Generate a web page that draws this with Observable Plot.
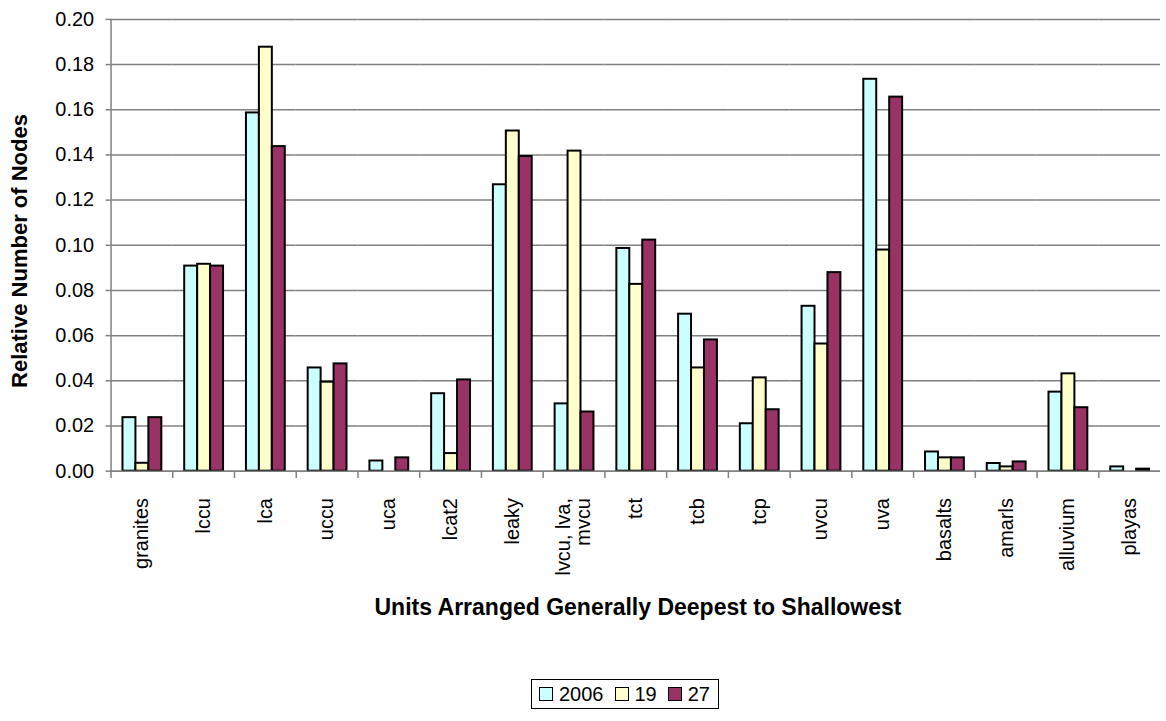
<!DOCTYPE html>
<html>
<head>
<meta charset="utf-8">
<script src="https://cdn.jsdelivr.net/npm/d3@7"></script>
<script src="https://cdn.jsdelivr.net/npm/@observablehq/plot@0.6"></script>
<style>
  html, body { margin: 0; padding: 0; overflow: hidden; background: #fff; }
  #wrap { position: relative; width: 1166px; height: 721px; overflow: hidden;
          font-family: "Liberation Sans", Arial, sans-serif; color: #000; }
  #chart { position: absolute; left: 0; top: 0; }
  .title { position: absolute; font-weight: bold; white-space: nowrap; line-height: 1; }
  #ytitle { font-size: 22px; left: 20px; top: 251px; transform: translate(-50%, -50%) rotate(-90deg); }
  #xtitle { font-size: 23px; left: 638px; top: 596px; transform: translateX(-50%); }
  #legend { position: absolute; left: 531px; top: 679px; border: 1px solid #000;
            padding: 3px 8px 3px 7px; display: flex; align-items: center; font-size: 20px; line-height: 22px; background: #fff; }
  #legend .item { display: flex; align-items: center; margin-right: 11px; }
  #legend .item:last-child { margin-right: 0; }
  #legend .sw { width: 12px; height: 12px; border: 1px solid #000; margin-right: 6px; }
</style>
</head>
<body>
<div id="wrap">
  <div id="chart"></div>
  <div id="ytitle" class="title">Relative Number of Nodes</div>
  <div id="xtitle" class="title">Units Arranged Generally Deepest to Shallowest</div>
  <div id="legend"></div>
</div>
<script>
const categories = ["granites", "lccu", "lca", "uccu", "uca", "lcat2", "leaky", "lvcu, lva,\nmvcu",
  "tct", "tcb", "tcp", "uvcu", "uva", "basalts", "amarls", "alluvium", "playas"];
const series = ["2006", "19", "27"];
const colors = ["#CCFFFF", "#FFFFCC", "#993366"];
const values2006 = [0.0237, 0.0908, 0.1586, 0.0457, 0.0045, 0.0343, 0.1268, 0.0298,
  0.0986, 0.0695, 0.0210, 0.0730, 0.1735, 0.0085, 0.0034, 0.0350, 0.0019];
const values19 = [0.0035, 0.0916, 0.1877, 0.0394, 0, 0.0078, 0.1506, 0.1417,
  0.0827, 0.0457, 0.0413, 0.0563, 0.0979, 0.0059, 0.0019, 0.0431, 0];
const values27 = [0.0237, 0.0908, 0.1437, 0.0475, 0.0059, 0.0404, 0.1393, 0.0262,
  0.1023, 0.0581, 0.0272, 0.0879, 0.1656, 0.0059, 0.0041, 0.0281, 0.0009];
const yTicks = [0, 0.02, 0.04, 0.06, 0.08, 0.10, 0.12, 0.14, 0.16, 0.18, 0.20];

const seriesValues = [values2006, values19, values27];
const data = categories.flatMap((c, i) =>
  series.map((s, j) => ({cat: c, series: s, value: seriesValues[j][i]})));

const gray = "#808080";
const chart = Plot.plot({
  width: 1171,
  height: 640,
  marginLeft: 105,
  marginRight: 0,
  marginTop: 19,
  marginBottom: 167.3,
  style: {fontFamily: "'Liberation Sans', Arial, sans-serif", fontSize: "20px", background: "transparent", color: "#000", overflow: "hidden"},
  fx: {domain: categories, padding: 0, label: null, axis: null},
  x: {domain: series, paddingInner: 0, paddingOuter: 0.74, axis: null},
  y: {domain: [0, 0.2], label: null, axis: null},
  color: {domain: series, range: colors},
  marks: [
    Plot.gridY(yTicks, {stroke: gray, strokeOpacity: 1, strokeWidth: 1.5}),
    Plot.barY(data, {fx: "cat", x: "series", y: "value", fill: "series",
      stroke: "#000", strokeWidth: 2, filter: d => d.value > 0}),
    Plot.ruleY([0], {stroke: gray, strokeWidth: 1.5}),
    Plot.frame({anchor: "left", stroke: gray, strokeWidth: 1.5, strokeOpacity: 1, insetTop: 453.7, insetBottom: -6}),
    Plot.frame({anchor: "left", stroke: gray, strokeWidth: 1.5, strokeOpacity: 1, facetAnchor: "left"}),
    Plot.axisY(yTicks, {anchor: "left", tickFormat: d3.format(".2f"), tickSize: 5, tickPadding: 12,
      stroke: gray, strokeWidth: 1.5, label: null, fill: "#000", fontSize: 20}),
    Plot.axisFx({anchor: "bottom", tickRotate: -90, tickSize: 0, tickPadding: 27, label: null, fill: "#000", fontSize: 20})
  ]
});
document.getElementById("chart").appendChild(chart);

const legend = document.getElementById("legend");
series.forEach((s, i) => {
  const item = document.createElement("div");
  item.className = "item";
  const sw = document.createElement("div");
  sw.className = "sw";
  sw.style.background = colors[i];
  const t = document.createElement("span");
  t.textContent = s;
  item.appendChild(sw);
  item.appendChild(t);
  legend.appendChild(item);
});
</script>
</body>
</html>
